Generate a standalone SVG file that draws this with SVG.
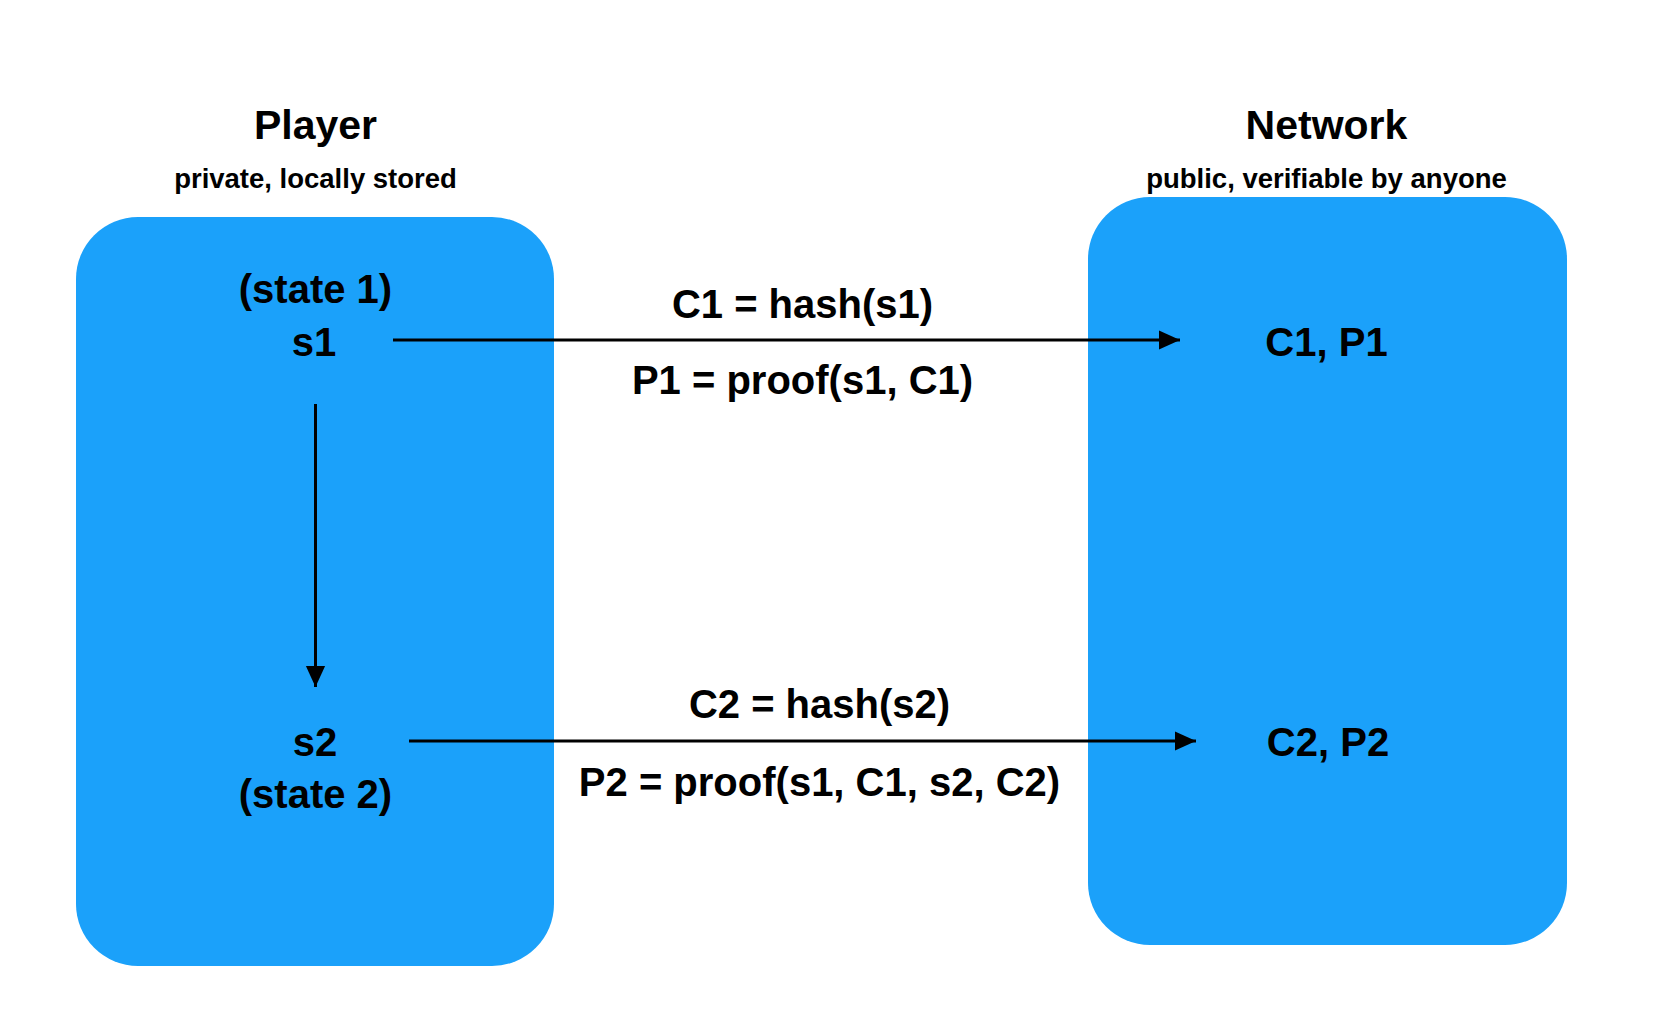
<svg xmlns="http://www.w3.org/2000/svg" width="1660" height="1026" viewBox="0 0 1660 1026">
<style>
.box{fill:#1ba1fa}
text{font-family:"Liberation Sans",Arial,sans-serif;font-weight:bold;fill:#000;text-anchor:middle}
.title{font-size:41px}
.sub{font-size:27.5px}
.lbl{font-size:40px}
.conn{stroke:#000;stroke-width:3;fill:none}
</style>
<defs>
<marker id="arr" markerWidth="8" markerHeight="8" refX="7" refY="4" orient="auto" markerUnits="strokeWidth">
<path d="M0,0.8 L7,4 L0,7.2 Z" fill="#000"/>
</marker>
</defs>
<rect width="1660" height="1026" fill="#fff"/>
<g id="player">
<rect class="box" x="76" y="217" width="478" height="749" rx="62" ry="62"/>
<text class="title" x="315.5" y="139">Player</text>
<text class="sub" x="315.5" y="188">private, locally stored</text>
</g>
<g id="network">
<rect class="box" x="1088" y="197" width="479" height="748" rx="62" ry="62"/>
<text class="title" x="1326.5" y="139">Network</text>
<text class="sub" x="1326.5" y="188">public, verifiable by anyone</text>
</g>
<g id="s1">
<text class="lbl" x="315.5" y="303">(state 1)</text>
<text class="lbl" x="314" y="356">s1</text>
</g>
<g id="s2">
<text class="lbl" x="315" y="756">s2</text>
<text class="lbl" x="315.5" y="808">(state 2)</text>
</g>
<g id="cp1">
<text class="lbl" x="1326.5" y="356">C1, P1</text>
</g>
<g id="cp2">
<text class="lbl" x="1328" y="756">C2, P2</text>
</g>
<g id="connectors">
<line class="conn" x1="393" y1="340" x2="1180" y2="340" marker-end="url(#arr)"/>
<line class="conn" x1="409" y1="741" x2="1196" y2="741" marker-end="url(#arr)"/>
<line class="conn" x1="315.5" y1="404" x2="315.5" y2="687" marker-end="url(#arr)"/>
<text class="lbl" x="802.5" y="318">C1 = hash(s1)</text>
<text class="lbl" x="802.5" y="394">P1 = proof(s1, C1)</text>
<text class="lbl" x="819.5" y="718">C2 = hash(s2)</text>
<text class="lbl" x="819.5" y="796">P2 = proof(s1, C1, s2, C2)</text>
</g>
</svg>
